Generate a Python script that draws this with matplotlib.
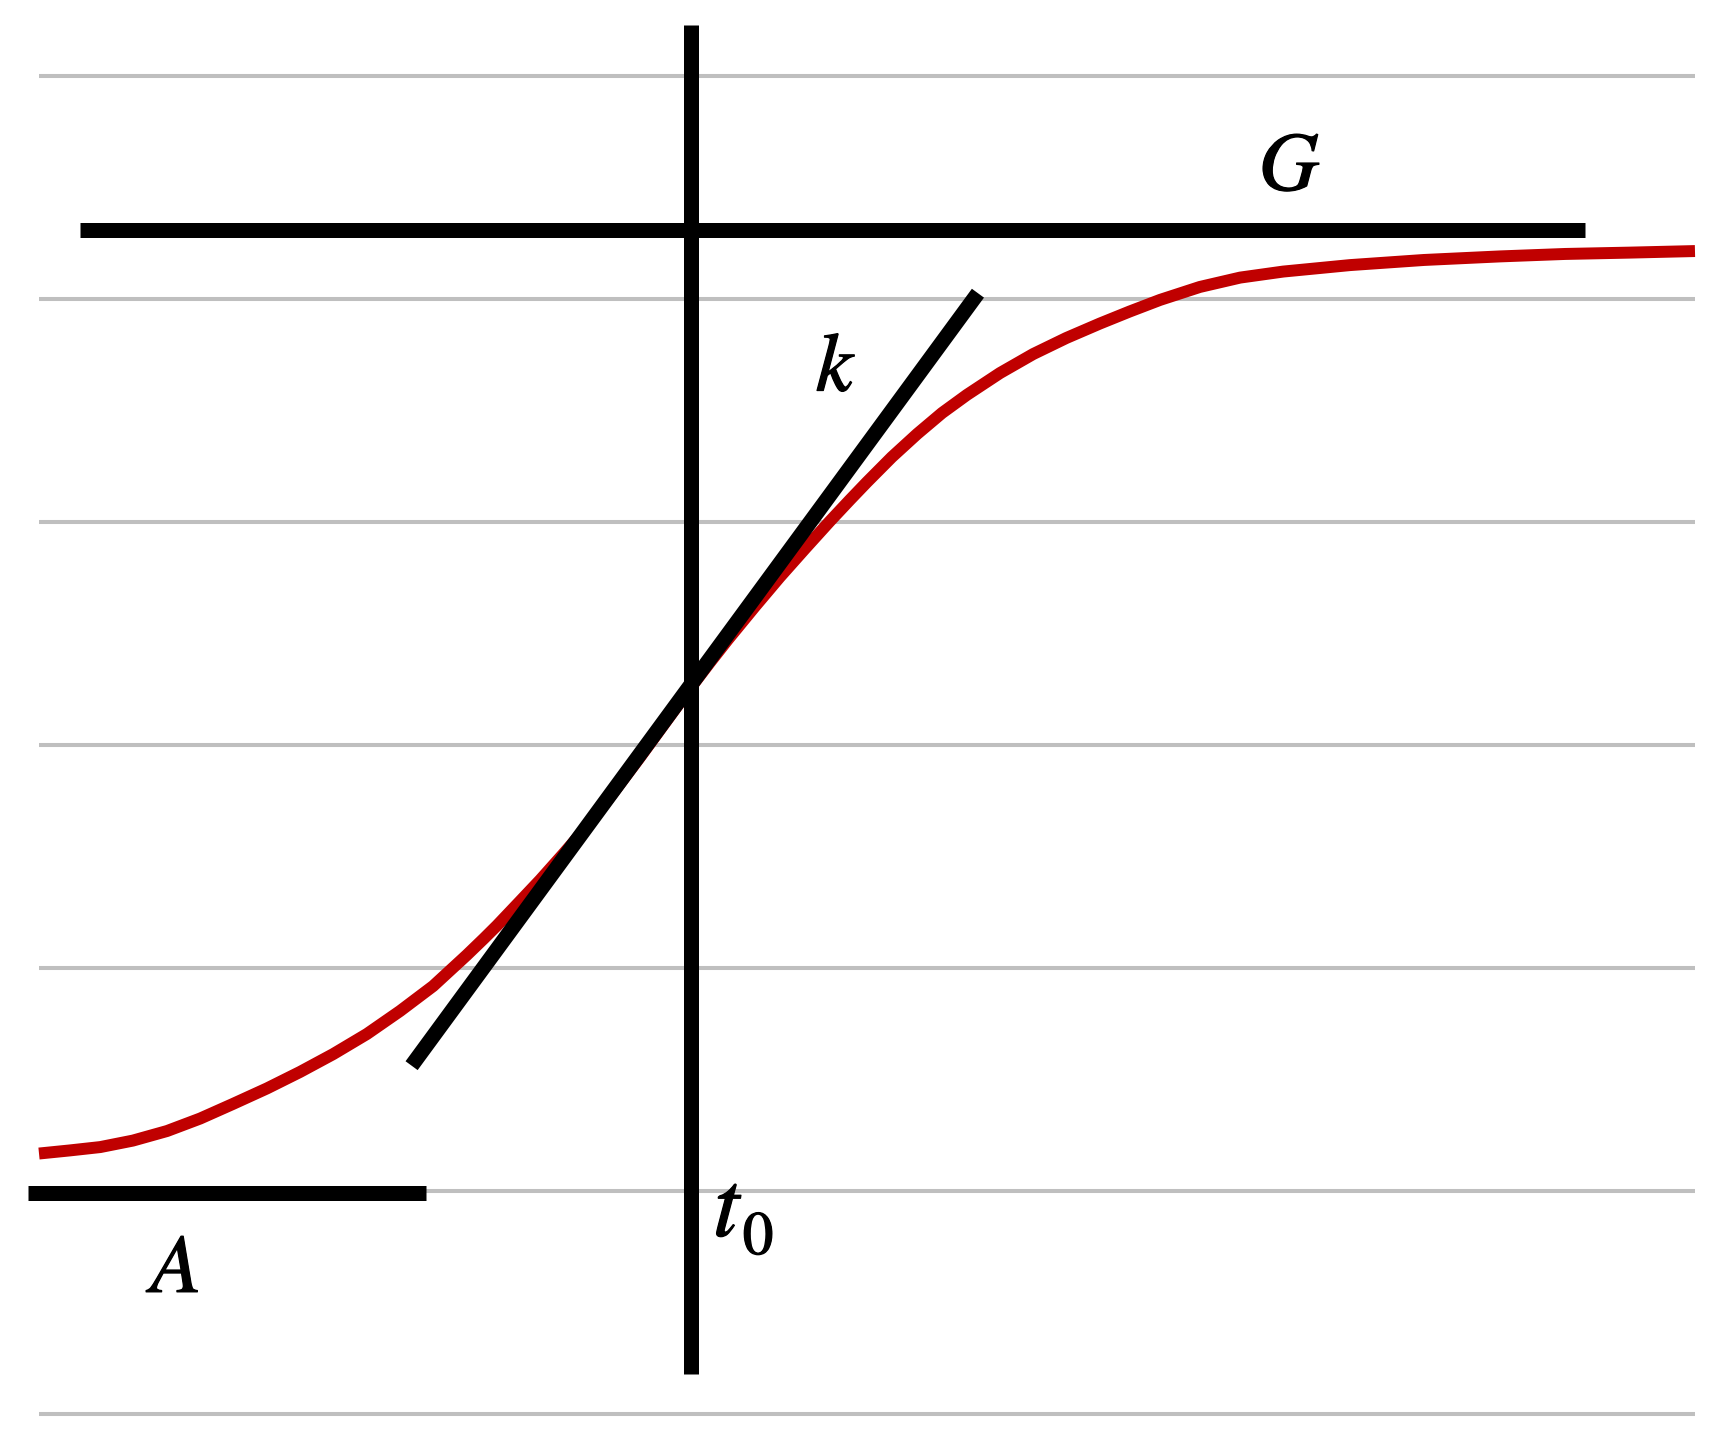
import matplotlib
matplotlib.use("Agg")
import matplotlib.pyplot as plt
import matplotlib.patheffects as pe

plt.rcParams['mathtext.fontset'] = 'stix'

# gridline levels
grid_levels = [0, 1, 2, 3, 4, 5, 6]
grid_x = [0, 30]

# growth curve
curve_t = [0.0, 0.56, 1.11, 1.70, 2.32, 2.92, 3.51, 4.13, 4.73, 5.33,
           5.94, 6.54, 7.14, 7.75, 8.06, 8.30, 8.71, 9.08, 9.49, 9.93,
           10.40, 10.89, 11.34, 11.83, 12.16, 12.48, 12.97, 13.42, 13.88,
           14.33, 14.69, 15.00, 15.45, 15.91, 16.36, 16.81, 17.41, 18.01,
           18.61, 19.22, 19.76, 20.31, 21.03, 21.76, 22.54, 23.75, 25.09,
           26.47, 27.65, 28.82, 30.0]
curve_y = [1.168, 1.182, 1.197, 1.226, 1.269, 1.325, 1.390, 1.460, 1.534,
           1.614, 1.704, 1.807, 1.919, 2.058, 2.132, 2.191, 2.298, 2.395,
           2.509, 2.635, 2.785, 2.946, 3.099, 3.265, 3.372, 3.473, 3.621,
           3.753, 3.881, 4.004, 4.099, 4.179, 4.291, 4.395, 4.489, 4.570,
           4.668, 4.753, 4.825, 4.890, 4.944, 4.996, 5.054, 5.096, 5.123,
           5.152, 5.175, 5.191, 5.202, 5.208, 5.215]

# helper lines
G_level = 5.309
G_span = [0.737, 28.0]
A_level = 0.992
A_span = [-0.205, 7.01]
t0 = 11.82
t0_span = [0.178, 6.227]
tangent_t = [6.75, 17.01]
tangent_y = [1.562, 5.026]

fig = plt.figure(figsize=(17.35, 14.4), dpi=100)
ax = fig.add_axes([0, 0, 1, 1])
ax.set_xlim(-0.7065, 30.725)
ax.set_ylim(-0.1166, 6.3408)
ax.axis('off')

for g in grid_levels:
    ax.plot(grid_x, [g, g], color='#BFBFBF', lw=2.9, solid_capstyle='butt', zorder=1)

ax.plot(curve_t, curve_y, color='#C00000', lw=8.6, solid_capstyle='butt',
        solid_joinstyle='round', zorder=2)

blk = dict(color='black', lw=10.8, solid_capstyle='butt', zorder=3)
ax.plot(G_span, [G_level, G_level], **blk)
ax.plot(A_span, [A_level, A_level], **blk)
ax.plot([t0, t0], t0_span, **blk)
ax.plot(tangent_t, tangent_y, **blk)

thick = [pe.withStroke(linewidth=0.9, foreground='black')]
lbl = dict(fontsize=60, ha='center', va='baseline', color='black', zorder=4,
           path_effects=thick)
ax.text(22.66, 5.489, r'$G$', **lbl)
ax.text(2.50, 0.547, r'$A$', **lbl)
ax.text(14.44, 4.587, r'$k$', **lbl)
ax.text(12.21, 0.798, r'$t$', fontsize=68, ha='left', va='baseline',
        color='black', path_effects=thick)
ax.text(12.75, 0.717, r'$\mathrm{0}$', fontsize=44, ha='left', va='baseline',
        color='black', path_effects=thick)

fig.savefig('out.png', dpi=100)
